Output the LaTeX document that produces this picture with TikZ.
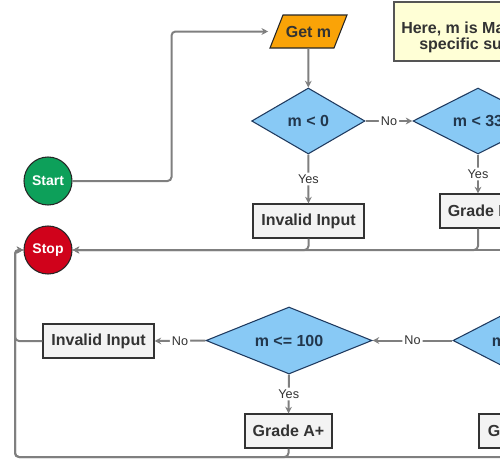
\documentclass[tikz,border=0pt]{standalone}
\usepackage{fontspec}
\setmainfont{Liberation Sans}
\usetikzlibrary{shapes.geometric,arrows.meta}
\definecolor{lncol}{HTML}{7F7F7F}
\definecolor{txt}{HTML}{333333}
\definecolor{boxfill}{HTML}{F3F3F3}
\definecolor{boxline}{HTML}{333333}
\definecolor{decfill}{HTML}{88C9F5}
\definecolor{decline}{HTML}{1F3A5F}
\definecolor{dectxt}{HTML}{22374D}
\definecolor{getmfill}{HTML}{FAA307}
\definecolor{startg}{HTML}{0DA05A}
\definecolor{stopr}{HTML}{D0021B}
\definecolor{notefill}{HTML}{FFFFD6}
\definecolor{noteline}{HTML}{555555}
\begin{document}
\begin{tikzpicture}[x=0.75pt,y=-0.75pt,
  conn/.style={draw=lncol, line width=1.5pt, rounded corners=3pt, -{Stealth[length=5pt,width=5pt]}},
  lbl/.style={fill=white, inner sep=1.5pt, font=\fontsize{9.5}{11}\selectfont, text=txt},
  bold12/.style={font=\bfseries\fontsize{12}{14}\selectfont},
  box/.style={draw=boxline, fill=boxfill, line width=0.8pt, minimum height=25.5pt, inner sep=0pt, bold12, text=txt},
  dec/.style={diamond, shape aspect=2.5, draw=decline, fill=decfill, line width=0.8pt, inner sep=0pt, bold12, text=dectxt},
  term/.style={circle, draw=black!85, line width=0.8pt, minimum size=36pt, inner sep=0pt, font=\bfseries\fontsize{10.5}{12}\selectfont, text=white},
  note/.style={draw=noteline, fill=notefill, line width=0.9pt, inner sep=0pt}]
\useasboundingbox (0,0) rectangle (500,464);
\clip (0,0) rectangle (500,464);

% note
\node[note, minimum width=154.5pt, minimum height=44.25pt] (note) at (497,31.5) {};
\node[anchor=west, inner sep=0pt, bold12, text=txt] (note1) at (401,29) {Here, m is Marks obtained in a};
\node[anchor=west, inner sep=0pt, bold12, text=txt] (note2) at (419,45) {specific subject};

% terminals
\node[term, fill=startg] (start) at (48,181) {Start};
\node[term, fill=stopr] (stop) at (48,250) {Stop};

% input
\draw[fill=getmfill, draw=black!85, line width=0.8pt] (270,48) -- (283,15) -- (347,15) -- (334,48) -- cycle;
\node[bold12, text=txt, minimum width=60pt, minimum height=24.75pt, inner sep=0pt] (getm) at (308.5,31.5) {Get m};

% decisions and boxes
\node[dec, minimum width=85pt, minimum height=49.5pt] (d1) at (308.3,121) {m < 0};
\node[dec, minimum width=97.5pt, minimum height=49.5pt] (d2) at (478,121) {m < 33};
\node[box, minimum width=83.25pt] (inv1) at (308.5,221) {Invalid Input};
\node[box, minimum width=57pt] (gF) at (478,211) {Grade F};
\node[dec, minimum width=124.5pt, minimum height=50.25pt] (d3) at (289,340.5) {m <= 100};
\node[dec, minimum width=96pt, minimum height=49.5pt] (d4) at (517,340.5) {m < 90};
\node[box, minimum width=60pt] (gA) at (519,431) {Grade A};
\node[box, minimum width=83.25pt] (inv2) at (98.5,341) {Invalid Input};
\node[box, minimum width=65.25pt] (gAp) at (288.5,431) {Grade A+};

\coordinate (offr) at (540,250);
\coordinate (lc) at (15,250);
\coordinate (bl) at (15,457);

% connectors
\draw[conn] (start.east) -- ++(99,0) |- (getm.west);
\draw[conn] (getm.south) -- (d1.north);
\draw[conn] (d1.east) -- node[lbl]{No} (d2.west);
\draw[conn] (d1.south) -- node[lbl]{Yes} (inv1.north);
\draw[conn] (d2.south) -- node[lbl]{Yes} (gF.north);
\draw[conn] (inv1.south) |- (stop.east);
\draw[conn] (gF.south) |- (stop.east);
\draw[conn] (offr) -- (stop.east);
\draw[conn] (d4.west) -- node[lbl]{No} (d3.east);
\draw[conn] (d3.west) -- node[lbl]{No} (inv2.east);
\draw[conn] (d3.south) -- node[lbl]{Yes} (gAp.north);
\draw[conn] (inv2.west) -| (lc) -- (stop.west);
\draw[conn] (gAp.south) |- (bl) -- (lc) -- (stop.west);
\draw[conn] (gA.south) |- (bl) -- (lc) -- (stop.west);
\end{tikzpicture}
\end{document}
